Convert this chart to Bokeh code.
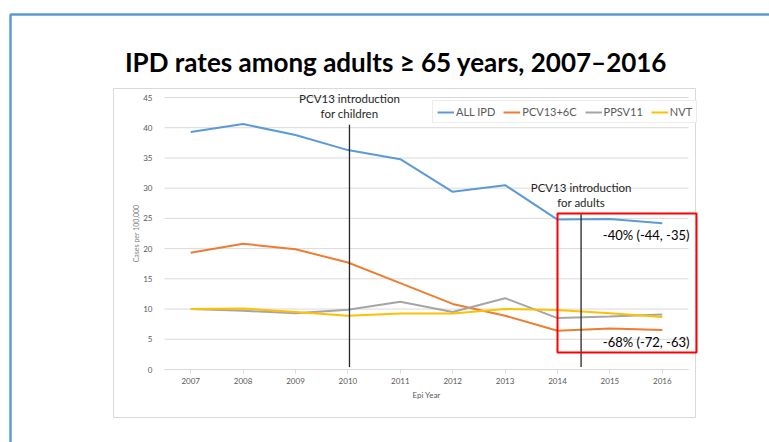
from bokeh.plotting import figure
from bokeh.models import BoxAnnotation, Label, Legend, LegendItem, FixedTicker, Range1d
from bokeh.embed import file_html
from bokeh.resources import INLINE

years = [2007, 2008, 2009, 2010, 2011, 2012, 2013, 2014, 2015, 2016]
all_ipd = [39.3, 40.6, 38.8, 36.3, 34.8, 29.4, 30.5, 24.8, 24.9, 24.2]
pcv13_6c = [19.3, 20.8, 19.9, 17.7, 14.3, 10.85, 8.9, 6.4, 6.8, 6.55]
ppsv11 = [10.0, 9.7, 9.3, 9.9, 11.2, 9.5, 11.8, 8.5, 8.75, 9.1]
nvt = [10.0, 10.1, 9.5, 8.9, 9.25, 9.25, 10.0, 9.85, 9.3, 8.7]
series_names = ["ALL IPD", "PCV13+6C", "PPSV11", "NVT"]
series_colors = ["#5B9BD5", "#ED7D31", "#A5A5A5", "#FFC000"]
y_ticks = [0, 5, 10, 15, 20, 25, 30, 35, 40, 45]

intro_x = [2010.03, 2014.45]
intro_top = [40.5, 25.7]
intro_bottom = [0.4, 0.4]
intro_text = ["PCV13 introduction\nfor children", "PCV13 introduction\nfor adults"]
change_text = ["-40% (-44, -35)", "-68% (-72, -63)"]
title_text = "IPD rates among adults \u2265 65 years, 2007\u20132016"

FONT = "Lato"
W, H = 769, 442

# plot-area placement on the page (pixels)
PL, PR, PT, PB = 164, 688, 97, 369
X0, X1 = years[0] - 0.5, years[-1] + 0.5
Y0, Y1 = y_ticks[0], y_ticks[-1]
sx = (PR - PL) / (X1 - X0)
sy = (PB - PT) / (Y1 - Y0)
x_lo = X0 - PL / sx
x_hi = X1 + (W - PR) / sx
y_lo = Y0 - (H - PB) / sy
y_hi = Y1 + PT / sy


def cx(px):
    return x_lo + px / sx


def cy(py):
    return y_hi - py / sy


p = figure(width=W, height=H, output_backend="svg", toolbar_location=None,
           x_range=Range1d(x_lo, x_hi), y_range=Range1d(y_lo, y_hi),
           min_border=0, min_border_left=0, min_border_right=0,
           min_border_top=0, min_border_bottom=0)
p.outline_line_color = None
p.background_fill_color = "white"
p.border_fill_color = "white"
p.grid.visible = False

# horizontal gridlines restricted to the plot area
p.segment(x0=X0, x1=X1, y0=y_ticks, y1=y_ticks, line_color="#D9D9D9", line_width=1)

p.xaxis.fixed_location = 0
p.xaxis.bounds = (X0, X1)
p.xaxis.ticker = FixedTicker(ticks=years)
p.xaxis.axis_line_color = "#D9D9D9"
p.xaxis.major_tick_line_color = "#D9D9D9"
p.xaxis.major_tick_out = 4
p.xaxis.major_tick_in = 0
p.xaxis.minor_tick_line_color = None
p.xaxis.major_label_text_font = FONT
p.xaxis.major_label_text_font_size = "8px"
p.xaxis.major_label_text_color = "#595959"
p.xaxis.major_label_standoff = 4
p.xaxis.axis_label = "Epi Year"
p.xaxis.axis_label_text_font = FONT
p.xaxis.axis_label_text_font_size = "8px"
p.xaxis.axis_label_text_font_style = "normal"
p.xaxis.axis_label_text_color = "#595959"
p.xaxis.axis_label_standoff = 3

p.yaxis.fixed_location = X0
p.yaxis.bounds = (Y0, Y1)
p.yaxis.ticker = FixedTicker(ticks=y_ticks)
p.yaxis.axis_line_color = None
p.yaxis.major_tick_line_color = None
p.yaxis.minor_tick_line_color = None
p.yaxis.major_label_text_font = FONT
p.yaxis.major_label_text_font_size = "8px"
p.yaxis.major_label_text_color = "#595959"
p.yaxis.major_label_standoff = 6
p.yaxis.axis_label = "Cases per 100,000"
p.yaxis.axis_label_text_font = FONT
p.yaxis.axis_label_text_font_size = "7px"
p.yaxis.axis_label_text_font_style = "normal"
p.yaxis.axis_label_text_color = "#7F7F7F"
p.yaxis.axis_label_standoff = 0

# slide border and chart-area border
p.add_layout(BoxAnnotation(left=cx(113), right=cx(695), top=cy(88), bottom=cy(417),
                           fill_alpha=0, line_color="#D9D9D9", line_alpha=1, line_width=1))
p.add_layout(BoxAnnotation(left=cx(10), right=cx(800), top=cy(14), bottom=cy(480),
                           fill_alpha=0, line_color="#5B9BD5", line_alpha=1, line_width=2.5))

p.add_layout(Label(x=cx(395.5), y=cy(61), text=title_text, text_align="center",
                   text_baseline="middle", text_font=FONT, text_font_size="26px",
                   text_font_style="bold", text_color="#000000"))

renderers = []
for ys, c in zip([all_ipd, pcv13_6c, ppsv11, nvt], series_colors):
    renderers.append(p.line(years, ys, line_color=c, line_width=2))

p.segment(x0=intro_x, y0=intro_bottom, x1=intro_x, y1=intro_top, line_color="#262626", line_width=1.3)

# red highlight box from 2014 to the chart edge
p.add_layout(BoxAnnotation(left=2014.0, right=cx(696), bottom=cy(352), top=cy(213),
                           fill_alpha=0, line_color="#FF0000", line_alpha=1, line_width=2))

for xi, txt, py in zip(intro_x, intro_text, [98, 187]):
    for k, ln in enumerate(txt.split("\n")):
        p.add_layout(Label(x=xi, y=cy(py + 15 * k), text=ln, text_align="center",
                           text_baseline="middle", text_font=FONT, text_font_size="11.5px",
                           text_color="#262626"))

for txt, py in zip(change_text, [234, 341]):
    p.add_layout(Label(x=cx(689), y=cy(py), text=txt, text_align="right", text_baseline="middle",
                       text_font=FONT, text_font_size="13px", text_color="#000000"))

legend = Legend(items=[LegendItem(label=n, renderers=[r]) for n, r in zip(series_names, renderers)],
                orientation="horizontal", location=(432, H - 123),
                label_text_font=FONT, label_text_font_size="11px", label_text_color="#595959",
                glyph_width=17, glyph_height=10, label_standoff=2, spacing=8, padding=4, margin=0,
                border_line_color="#D9D9D9", background_fill_color="white", background_fill_alpha=1,
                label_height=11)
p.add_layout(legend)

open("out.html", "w").write(file_html(p, INLINE))
